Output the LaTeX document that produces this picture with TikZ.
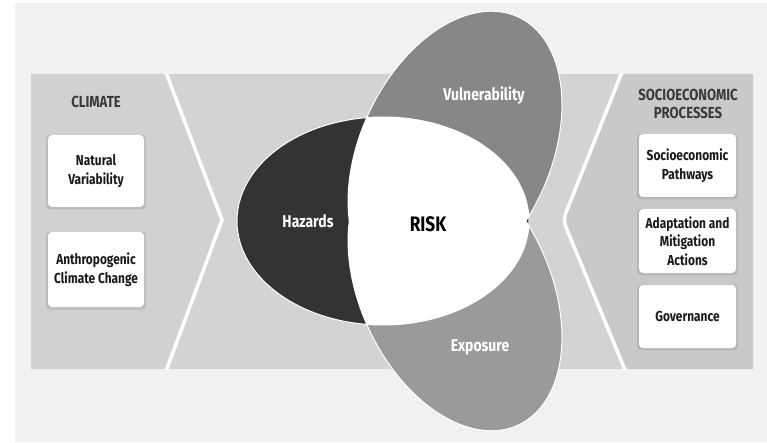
\documentclass[tikz,border=0pt]{standalone}
\usepackage{fontspec}
\setmainfont[FakeStretch=0.82]{Fira Sans}
\usetikzlibrary{shadows}

\definecolor{pagebg}{HTML}{F1F1F1}
\definecolor{bandmid}{HTML}{D3D3D3}
\definecolor{bandleft}{HTML}{D1D1D1}
\definecolor{bandright}{HTML}{C9C9C9}
\definecolor{hazdark}{HTML}{333333}
\definecolor{vulngray}{HTML}{878787}
\definecolor{expogray}{HTML}{9A9A9A}
\definecolor{inkgray}{HTML}{3A3A3A}

\begin{document}
\begin{tikzpicture}[x=1pt,y=1pt,
	box/.style={fill=white,rounded corners=4pt,inner sep=0pt,align=center,
		text=black!90,font=\bfseries\fontsize{14.5}{18.5}\selectfont,
		drop shadow={opacity=0.25,shadow xshift=0pt,shadow yshift=-1pt,shadow scale=1.04}},
	head/.style={align=center,text=inkgray,font=\bfseries\fontsize{16}{18}\selectfont},
	lbl/.style={text=white,font=\bfseries\fontsize{17}{20}\selectfont}]
	\useasboundingbox (0,0) rectangle (767,442);
	\fill[white] (0,0) rectangle (767,442);
	\fill[pagebg] (15,0) rectangle (767,439);
	
	% band with the two side panels
	\begin{scope}
		\clip (31,73) rectangle (753,368);
		\fill[bandmid] (31,73) rectangle (753,368);
		\fill[bandleft] (31,73) -- (31,368) -- (162,368) -- (222,222) -- (162,73) -- cycle;
		\fill[bandright] (753,73) -- (753,368) -- (621,368) -- (563,222) -- (625,73) -- cycle;
		\draw[white,line width=3.5pt] (162,380) -- (222,222) -- (162,60);
		\draw[white,line width=3.5pt,rounded corners=7pt] (626,380) -- (563,222) -- (630,60);
	\end{scope}
	
	% the three ellipses
	\fill[vulngray,rotate around={65:(455,289)}] (455,289) ellipse (150 and 95);
	\fill[expogray,rotate around={-65:(455,153)}] (455,153) ellipse (150 and 95);
	\fill[hazdark] (383,221) ellipse (146 and 104);
	\begin{scope}
		\clip (383,221) ellipse (146 and 104);
		\fill[white,rotate around={65:(455,289)}] (455,289) ellipse (150 and 95);
		\fill[white,rotate around={-65:(455,153)}] (455,153) ellipse (150 and 95);
	\end{scope}
	\draw[white,line width=1pt,rotate around={65:(455,289)}] (455,289) ellipse (150 and 95);
	\draw[white,line width=1pt,rotate around={-65:(455,153)}] (455,153) ellipse (150 and 95);
	\draw[white,line width=1pt] (383,221) ellipse (146 and 104);
	
	\node[lbl] (vuln) at (484,347) {Vulnerability};
	\node[lbl] (hazards) at (308,221) {Hazards};
	\node[lbl] (expo) at (480,95) {Exposure};
	\node[text=black,font=\bfseries\fontsize{21}{24}\selectfont] (risk) at (428,218) {RISK};
	
	% climate side
	\node[head] (climate) at (96,340) {CLIMATE};
	\node[box,minimum width=96pt,minimum height=72pt] (natvar) at (96,271) {Natural\\Variability};
	\node[box,minimum width=96pt,minimum height=75pt] (anthro) at (96,172.5) {Anthropogenic\\Climate Change};
	
	% socioeconomic side
	\node[head] (socio) at (688,338) {SOCIOECONOMIC\\PROCESSES};
	\node[box,minimum width=97pt,minimum height=63pt] (pathways) at (687.5,276.5) {Socioeconomic\\Pathways};
	\node[box,minimum width=97pt,minimum height=64pt] (adapt) at (687.5,201) {Adaptation and\\Mitigation\\Actions};
	\node[box,minimum width=97pt,minimum height=63pt] (gov) at (687.5,125.5) {Governance};
\end{tikzpicture}
\end{document}
